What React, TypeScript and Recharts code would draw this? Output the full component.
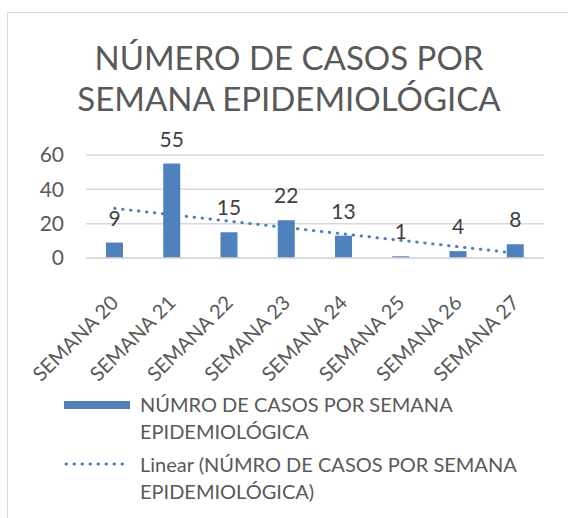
import React from "react";
import {
  ComposedChart,
  Bar,
  Line,
  XAxis,
  YAxis,
  CartesianGrid,
  LabelList,
} from "recharts";

const semanas = [
  "SEMANA 20",
  "SEMANA 21",
  "SEMANA 22",
  "SEMANA 23",
  "SEMANA 24",
  "SEMANA 25",
  "SEMANA 26",
  "SEMANA 27",
];
const casos = [9, 55, 15, 22, 13, 1, 4, 8];
const yTicks = [0, 20, 40, 60];

const titulo = ["NÚMERO DE CASOS POR", "SEMANA EPIDEMIOLÓGICA"];
const serieNombre = "NÚMRO DE CASOS POR SEMANA EPIDEMIOLÓGICA";
const tendenciaNombre = `Linear (${serieNombre})`;

const BLUE = "#4F81BD";
const TEXT = "#595959";
const FONT = "Lato, 'Open Sans', sans-serif";

// least squares trend line, like Excel's "Linear" trendline
const n = casos.length;
const meanX = (n - 1) / 2;
const meanY = casos.reduce((a, b) => a + b, 0) / n;
let sxy = 0;
let sxx = 0;
casos.forEach((v, i) => {
  sxy += (i - meanX) * (v - meanY);
  sxx += (i - meanX) * (i - meanX);
});
const slope = sxy / sxx;
const intercept = meanY - slope * meanX;

const data = semanas.map((s, i) => ({
  semana: s,
  casos: casos[i],
  tendencia: intercept + slope * i,
}));

const XTick = (props: any) => {
  const { x, y, payload } = props;
  return (
    <g transform={`translate(${x + 5},${y + 38})`}>
      <text
        x={0}
        y={0}
        textAnchor="end"
        transform="rotate(-45)"
        fill={TEXT}
        fontSize={20}
        fontFamily={FONT}
      >
        {payload.value}
      </text>
    </g>
  );
};

export default function App() {
  return (
    <div
      style={{
        position: "fixed",
        left: 0,
        top: 0,
        width: 568,
        height: 518,
        overflow: "hidden",
        background: "#fff",
        fontFamily: FONT,
      }}
    >
      <div
        style={{
          position: "absolute",
          left: 7,
          top: 12,
          width: 580,
          height: 530,
          border: "1px solid #d9d9d9",
        }}
      />
      <div
        style={{
          position: "absolute",
          left: 7,
          width: 564,
          top: 37,
          textAlign: "center",
          fontSize: 33,
          lineHeight: "41px",
          color: TEXT,
        }}
      >
        {titulo.map((t) => (
          <div key={t}>{t}</div>
        ))}
      </div>
      <div style={{ position: "absolute", left: 0, top: 0 }}>
        <ComposedChart
          width={568}
          height={518}
          data={data}
          margin={{ top: 155, right: 24, bottom: 142, left: 36 }}
        >
          <CartesianGrid vertical={false} stroke="#d9d9d9" strokeWidth={1.5} />
          <XAxis
            dataKey="semana"
            height={118}
            axisLine={{ stroke: "#d9d9d9", strokeWidth: 1.5 }}
            tickLine={false}
            interval={0}
            tick={<XTick />}
          />
          <YAxis
            width={50}
            domain={[0, 60]}
            ticks={yTicks}
            axisLine={false}
            tickLine={false}
            tickSize={0}
            tickMargin={22}
            tick={{ fill: TEXT, fontSize: 21, fontFamily: FONT }}
          />
          <Bar dataKey="casos" fill={BLUE} barSize={17} isAnimationActive={false}>
            <LabelList
              dataKey="casos"
              position="top"
              offset={17}
              fill="#404040"
              fontSize={21}
              fontFamily={FONT}
            />
          </Bar>
          <Line
            type="linear"
            dataKey="tendencia"
            stroke={BLUE}
            strokeWidth={3}
            strokeDasharray="0.5 7.5"
            strokeLinecap="round"
            dot={false}
            activeDot={false}
            isAnimationActive={false}
          />
        </ComposedChart>
      </div>
      <div
        style={{
          position: "absolute",
          left: 64,
          top: 391,
          fontSize: 20,
          lineHeight: "27px",
          color: TEXT,
        }}
      >
        <div style={{ display: "flex", alignItems: "flex-start" }}>
          <div
            style={{
              width: 66,
              height: 8,
              background: BLUE,
              marginTop: 10,
              marginRight: 10,
            }}
          />
          <div style={{ width: 340 }}>{serieNombre}</div>
        </div>
        <div style={{ display: "flex", alignItems: "flex-start", marginTop: 6 }}>
          <svg width={66} height={27} style={{ marginRight: 10 }}>
            <line
              x1={2}
              y1={13}
              x2={64}
              y2={13}
              stroke={BLUE}
              strokeWidth={3}
              strokeDasharray="0.5 7.5"
              strokeLinecap="round"
            />
          </svg>
          <div style={{ width: 400 }}>{tendenciaNombre}</div>
        </div>
      </div>
    </div>
  );
}
